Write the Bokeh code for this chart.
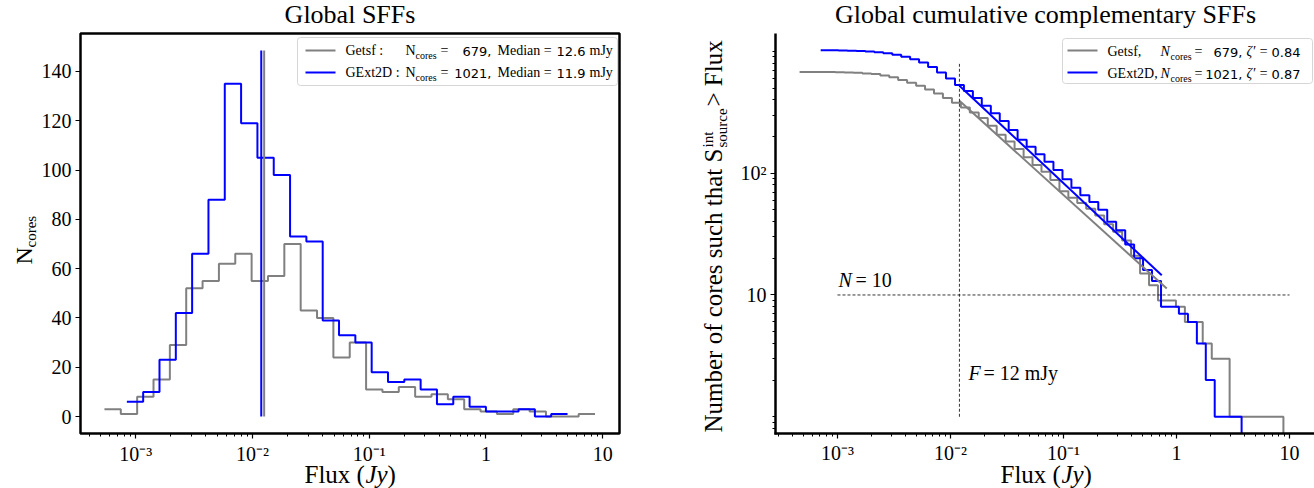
import math
import numpy as np
from bokeh.plotting import figure
from bokeh.layouts import row
from bokeh.models import FixedTicker, Label, BoxAnnotation, Arrow, Range1d
from bokeh.embed import file_html
from bokeh.resources import INLINE

SERIF = "Liberation Serif"
SANS = "DejaVu Sans"
GRAY = "#808080"
BLUE = "#0000ff"

# ---------------- data : left panel (differential SFFs) ----------------
getsf_counts = [3, 1, 8, 15, 29, 52, 55, 62, 66, 55, 57, 70, 43, 40, 24, 30,
                11, 10, 12, 8, 9, 7, 3, 2, 1, 3, 2, 0, 0, 1]
gext_counts = [6, 10, 23, 42, 66, 88, 135, 119, 105, 98, 73, 71, 39, 33, 30,
               18, 14, 15, 11, 5, 8, 4, 2, 2, 3, 0, 1]
getsf_flux_limits = [5.4e-4, 8.6]     # Jy, first / last bin edge
gext_flux_limits = [8.4e-4, 5.0]
getsf_median = 0.0126                 # Jy
gext_median = 0.0119
getsf_ncores = 679
gext_ncores = 1021

# ---------------- data : right panel (cumulative complementary SFFs) ----------------
getsf_cum_flux = [4.62e-4, 5.56e-4, 6.67e-4, 8.0e-4, 9.59e-4, 1.153e-3, 1.384e-3, 1.66e-3,
                  1.991e-3, 2.393e-3, 2.871e-3, 3.443e-3, 4.13e-3, 4.966e-3, 5.957e-3,
                  7.145e-3, 8.57e-3, 0.0103, 0.01236, 0.01483, 0.01778, 0.02138, 0.02564,
                  0.03076, 0.0369, 0.04436, 0.05321, 0.06383, 0.07656, 0.09204, 0.1104,
                  0.1324, 0.1589, 0.191, 0.2291, 0.2748, 0.3304, 0.3963, 0.4762, 0.5715,
                  0.6855, 0.9886, 1.186, 1.706, 2.051, 2.951, 8.83]
getsf_cum_n = [679, 679, 677, 676, 675, 672, 668, 660, 651, 635, 613, 583, 553, 522, 487,
               452, 414, 379, 347, 315, 284, 245, 207, 182, 158, 135, 117, 103, 88, 71, 63,
               57, 51, 45, 38, 33, 28, 21, 15, 12, 9, 8, 6, 4, 3, 1, 0]
gext_cum_flux = [7.1e-4, 8.51e-4, 1.021e-3, 1.225e-3, 1.472e-3, 1.766e-3, 2.118e-3,
                 2.541e-3, 3.055e-3, 3.664e-3, 4.395e-3, 5.272e-3, 6.339e-3, 7.603e-3,
                 9.12e-3, 0.01096, 0.01315, 0.01578, 0.01892, 0.02275, 0.02729, 0.03273,
                 0.03926, 0.04721, 0.05662, 0.06792, 0.08147, 0.09795, 0.1175, 0.1409,
                 0.1694, 0.2032, 0.2438, 0.2924, 0.3516, 0.4217, 0.5058, 0.6067, 0.7295,
                 1.05, 1.262, 1.514, 1.816, 2.178, 3.767]
gext_cum_n = [1021, 1021, 1018, 1013, 1008, 998, 985, 965, 939, 903, 862, 812, 745, 670,
              600, 530, 472, 415, 358, 310, 268, 226, 188, 165, 143, 124, 106, 89, 76, 66,
              58, 50, 40, 34, 26, 20, 16, 13, 8, 7, 6, 4, 2, 1, 0]
getsf_fit_flux = [0.012, 0.82]
getsf_fit_n = [393, 11.3]
gext_fit_flux = [0.012, 0.74]
gext_fit_n = [523, 14.5]
getsf_zeta = 0.84
gext_zeta = 0.87
completeness_flux = 0.012            # Jy  (F = 12 mJy)
completeness_n_span = [1, 790]
threshold_n = 10                     # N = 10
threshold_flux_span = [1e-3, 10]

x_ticks = [1e-3, 1e-2, 1e-1, 1, 10]
x_tick_labels = ["10\u207b\u00b3", "10\u207b\u00b2", "10\u207b\u00b9", "1", "10"]
x_minor_left = [m * 10.0 ** e for e in range(-4, 1) for m in range(2, 10) if m * 10.0 ** e > 3.5e-4]
x_minor_right = [m * 10.0 ** e for e in range(-4, 1) for m in range(2, 10) if m * 10.0 ** e > 2.9e-4]
y_ticks_left = [0, 20, 40, 60, 80, 100, 120, 140]
y_ticks_right = [10, 100]
y_tick_labels_right = ["10", "10\u00b2"]
y_minor_right = [0.8, 0.9, 1] + [m * 10.0 ** e for e in range(0, 3) for m in range(2, 10)] + [1000]

# ---------------- layout geometry (pixels / axis extents) ----------------
H = 488
WL, WR = 700, 614
L_BOX = dict(x0=80, x1=619, y0=33, y1=433)
L_XLOG = (-4.158, 1.838)          # log10 flux at canvas x = 0 and x = WL
L_Y = (-29.2, 168.8)              # N at canvas bottom and top
L_XBOUNDS = (10 ** -3.472, 10 ** 1.144)
L_YBOUNDS = (-6.9, 155.4)
R_OFF = 700
R_BOX = dict(x0=775, x1=1314, y0=33, y1=433)
R_XLOG = (-4.212, 1.221)
R_YLOG = (-0.589, 3.418)
R_XBOUNDS = (10 ** -3.548, 10 ** 1.221)
R_YBOUNDS = (10 ** -0.137, 10 ** 3.147)


def text(p, off, cx, cy, s, size, font=SERIF, style="normal", align="left",
         angle=0.0, color="black"):
    """cx, cy: window pixel position of the text baseline start."""
    d = 0.33 * size   # compensate renderer baseline offset
    if angle:
        x, y = cx - off - d, H - cy
    else:
        x, y = cx - off, H - cy + d
    p.add_layout(Label(x=x, y=y, x_units="screen", y_units="screen", text=s,
                       text_font=font, text_font_size=f"{size}px", text_font_style=style,
                       text_align=align, text_baseline="alphabetic", angle=angle,
                       text_color=color))


def seg(p, off, x0, y0, x1, y1, color="black", width=2.5):
    p.add_layout(Arrow(start=None, end=None, x_start=x0 - off, y_start=H - y0,
                       x_end=x1 - off, y_end=H - y1, start_units="screen",
                       end_units="screen", line_color=color, line_width=width))


def style_axes(p):
    p.grid.visible = False
    p.outline_line_color = None
    for ax in (p.xaxis[0], p.yaxis[0]):
        ax.axis_line_color = None
        ax.major_tick_line_width = 1.2
        ax.minor_tick_line_width = 1.0
        ax.major_tick_out = 5
        ax.major_tick_in = 0
        ax.minor_tick_out = 3
        ax.minor_tick_in = 0
        ax.major_label_text_font = SERIF
        ax.major_label_text_font_size = "20px"
        ax.major_label_text_color = "black"
        ax.major_label_standoff = 4


def legend_box(p, off, x0, x1, y0, y1):
    p.add_layout(BoxAnnotation(left=x0 - off, right=x1 - off, top=H - y0, bottom=H - y1,
                               left_units="screen", right_units="screen", top_units="screen",
                               bottom_units="screen", fill_color="white", fill_alpha=0.8,
                               line_color="#d6d6d6", line_alpha=1.0, line_width=1,
                               border_radius=3))


# ====================== LEFT PANEL ======================
pL = figure(width=WL, height=H, x_axis_type="log",
            x_range=Range1d(10 ** L_XLOG[0], 10 ** L_XLOG[1]), y_range=Range1d(*L_Y),
            output_backend="svg", toolbar_location=None, min_border=0)
style_axes(pL)
pL.xaxis.fixed_location = L_YBOUNDS[0]
pL.xaxis.bounds = L_XBOUNDS
pL.yaxis.fixed_location = L_XBOUNDS[0]
pL.yaxis.bounds = L_YBOUNDS
pL.xaxis.ticker = FixedTicker(ticks=x_ticks, minor_ticks=x_minor_left)
pL.xaxis.major_label_overrides = dict(zip(x_ticks, x_tick_labels))
pL.yaxis.ticker = FixedTicker(ticks=y_ticks_left, minor_ticks=[])

getsf_edges = np.logspace(math.log10(getsf_flux_limits[0]), math.log10(getsf_flux_limits[1]),
                          len(getsf_counts) + 1)
gext_edges = np.logspace(math.log10(gext_flux_limits[0]), math.log10(gext_flux_limits[1]),
                         len(gext_counts) + 1)
pL.step(getsf_edges, getsf_counts + getsf_counts[-1:], mode="after",
        line_color=GRAY, line_width=2)
pL.step(gext_edges, gext_counts + gext_counts[-1:], mode="after",
        line_color=BLUE, line_width=2)
line_top = 1.1 * max(gext_counts)
pL.segment(x0=[getsf_median], y0=[0], x1=[getsf_median], y1=[line_top],
           line_color=GRAY, line_width=2)
pL.segment(x0=[gext_median], y0=[0], x1=[gext_median], y1=[line_top],
           line_color=BLUE, line_width=2)

# axes box
pL.add_layout(BoxAnnotation(left=L_BOX["x0"], right=L_BOX["x1"], top=H - L_BOX["y0"],
                            bottom=H - L_BOX["y1"], left_units="screen", right_units="screen",
                            top_units="screen", bottom_units="screen", fill_alpha=0,
                            line_color="black", line_alpha=1.0, line_width=2.5))

# title & axis labels
text(pL, 0, 349.5, 23, "Global SFFs", 26, align="center")
text(pL, 0, 304, 482, "Flux (", 25)
text(pL, 0, 365, 482, "Jy", 25, style="italic")
text(pL, 0, 387, 482, ")", 25)
text(pL, 0, 31, 264, "N", 24, angle=math.pi / 2)
text(pL, 0, 35, 247, "cores", 15, angle=math.pi / 2)

# legend
legend_box(pL, 0, 297, 617, 37, 85)
seg(pL, 0, 305, 50, 335, 50, GRAY, 2)
seg(pL, 0, 305, 72, 335, 72, BLUE, 2)
for cy, name, nc, med in ((55, "Getsf :", f"{getsf_ncores}", f"{getsf_median*1e3:.1f}"),
                          (77, "GExt2D :", f"{gext_ncores}", f"{gext_median*1e3:.1f}")):
    text(pL, 0, 345, cy, name, 14)
    text(pL, 0, 405, cy, "N", 14)
    text(pL, 0, 415, cy + 3, "cores", 10)
    text(pL, 0, 440, cy, "=", 14)
    text(pL, 0, 491, cy, nc + ",", 13, font=SANS, align="right")
    text(pL, 0, 497, cy, "Median =", 14)
    text(pL, 0, 556, cy, med, 13, font=SANS)
    text(pL, 0, 589, cy, "mJy", 14)

# ====================== RIGHT PANEL ======================
pR = figure(width=WR, height=H, x_axis_type="log", y_axis_type="log",
            x_range=Range1d(10 ** R_XLOG[0], 10 ** R_XLOG[1]),
            y_range=Range1d(10 ** R_YLOG[0], 10 ** R_YLOG[1]),
            output_backend="svg", toolbar_location=None, min_border=0)
style_axes(pR)
pR.xaxis.fixed_location = R_YBOUNDS[0]
pR.xaxis.bounds = R_XBOUNDS
pR.yaxis.fixed_location = R_XBOUNDS[0]
pR.yaxis.bounds = R_YBOUNDS
pR.xaxis.ticker = FixedTicker(ticks=x_ticks, minor_ticks=x_minor_right)
pR.xaxis.major_label_overrides = dict(zip(x_ticks, x_tick_labels))
pR.yaxis.ticker = FixedTicker(ticks=y_ticks_right, minor_ticks=y_minor_right)
pR.yaxis.major_label_overrides = dict(zip(y_ticks_right, y_tick_labels_right))

# N = 0 is drawn down to the bottom of the axis box (log axis)
g_n = [n if n > 0 else R_YBOUNDS[0] for n in getsf_cum_n]
b_n = [n if n > 0 else R_YBOUNDS[0] for n in gext_cum_n]
pR.step(getsf_cum_flux, g_n, mode="after", line_color=GRAY, line_width=2)
pR.step(gext_cum_flux, b_n, mode="after", line_color=BLUE, line_width=2)
pR.line(getsf_fit_flux, getsf_fit_n, line_color=GRAY, line_width=2)
pR.line(gext_fit_flux, gext_fit_n, line_color=BLUE, line_width=2)
pR.segment(x0=[completeness_flux], y0=[completeness_n_span[0]], x1=[completeness_flux],
           y1=[completeness_n_span[1]], line_color="black", line_width=0.8, line_dash="3 2")
pR.segment(x0=[threshold_flux_span[0]], y0=[threshold_n], x1=[threshold_flux_span[1]],
           y1=[threshold_n], line_color="black", line_width=0.8, line_dash="3 2")

# spines (left and bottom)
seg(pR, R_OFF, R_BOX["x0"], R_BOX["y0"], R_BOX["x0"], R_BOX["y1"] + 1)
seg(pR, R_OFF, R_BOX["x0"] - 1, R_BOX["y1"], R_BOX["x1"], R_BOX["y1"])

text(pR, R_OFF, 1045, 23, "Global cumulative complementary SFFs", 26, align="center")
text(pR, R_OFF, 1000, 482, "Flux (", 25)
text(pR, R_OFF, 1061, 482, "Jy", 25, style="italic")
text(pR, R_OFF, 1083, 482, ")", 25)
# rotated y label : Number of cores such that S^int_source > Flux
text(pR, R_OFF, 721, 432, "Number of cores such that S", 25, angle=math.pi / 2)
text(pR, R_OFF, 712, 147, "int", 15, angle=math.pi / 2)
text(pR, R_OFF, 726, 147, "source", 15, angle=math.pi / 2)
text(pR, R_OFF, 721, 106, "> Flux", 25, angle=math.pi / 2)

text(pR, R_OFF, 838, 286, "N", 20, style="italic")
text(pR, R_OFF, 855, 286, "= 10", 20)
text(pR, R_OFF, 968, 379, "F", 20, style="italic")
text(pR, R_OFF, 983, 379, "= 12 mJy", 20)

legend_box(pR, R_OFF, 1062, 1312, 38, 83)
seg(pR, R_OFF, 1067, 50, 1097, 50, GRAY, 2)
seg(pR, R_OFF, 1067, 72, 1097, 72, BLUE, 2)
for cy, name, nc, z in ((56, "Getsf,", f"{getsf_ncores}", f"{getsf_zeta:.2f}"),
                        (78, "GExt2D,", f"{gext_ncores}", f"{gext_zeta:.2f}")):
    text(pR, R_OFF, 1107, cy, name, 14)
    text(pR, R_OFF, 1160, cy, "N", 14, style="italic")
    text(pR, R_OFF, 1170, cy + 3, "cores", 10)
    text(pR, R_OFF, 1194, cy, "=", 14)
    text(pR, R_OFF, 1242, cy, nc + ",", 13, font=SANS, align="right")
    text(pR, R_OFF, 1246, cy, "\u03b6\u2032 =", 14, style="italic")
    text(pR, R_OFF, 1271, cy, z, 13, font=SANS)

layout = row(pL, pR)
open("out.html", "w").write(file_html(layout, INLINE))
